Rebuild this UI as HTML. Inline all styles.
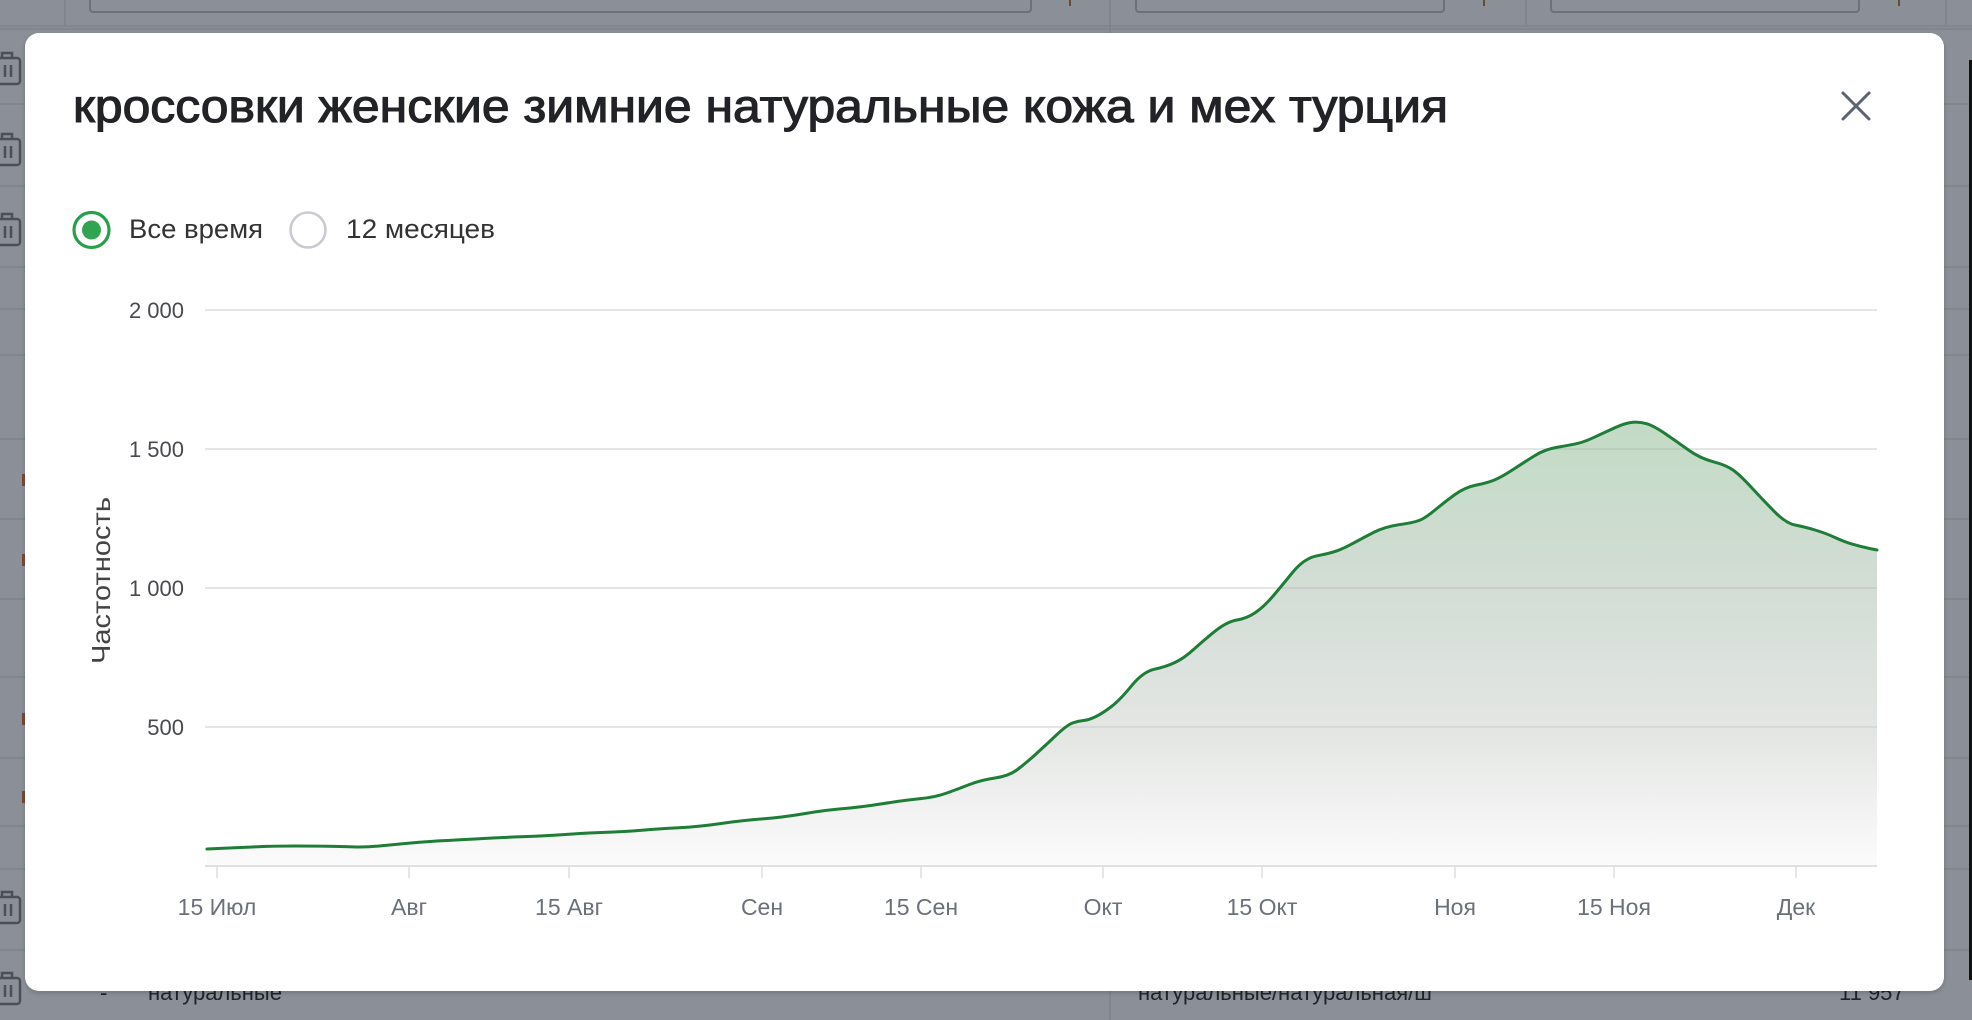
<!DOCTYPE html>
<html><head><meta charset="utf-8"><style>
html,body{margin:0;padding:0;width:1972px;height:1020px;overflow:hidden;background:#8a8f98;}
svg{display:block;}
text{font-family:"Liberation Sans","DejaVu Sans",sans-serif;}
</style></head><body>
<svg width="1972" height="1020" viewBox="0 0 1972 1020" xmlns="http://www.w3.org/2000/svg">
<defs>
<linearGradient id="fg" x1="0" y1="420" x2="0" y2="866" gradientUnits="userSpaceOnUse">
<stop offset="0" stop-color="#c2dbc5"/>
<stop offset="0.4" stop-color="#d4ddd6"/>
<stop offset="0.72" stop-color="#e5e7e5"/>
<stop offset="1" stop-color="#fbfbfb"/>
</linearGradient>
<filter id="sh" x="-2%" y="-2%" width="104%" height="106%"><feDropShadow dx="0" dy="2" stdDeviation="2" flood-color="#000" flood-opacity="0.18"/></filter>
<clipPath id="areaClip"><path d="M207,849 L223.5,848.25 Q240,847.5 257.5,846.75 Q275,846 295,846 Q315,846 327.5,846.25 Q340,846.5 353,846.9 Q366,847.3 377.5,846.15 Q389,845 409.5,843.15 Q430,841.3 444,840.65 Q458,840 481,838.65 Q504,837.3 524,836.65 Q544,836 567,834.35 Q590,832.7 607.5,832.2 Q625,831.7 642,830.2 Q659,828.7 679,827.7 Q699,826.7 722,823.35 Q745,820 762.5,818.85 Q780,817.7 803,813.85 Q826,810 843,808.65 Q860,807.3 883,803.65 Q906,800 920.5,798.65 Q935,797.3 946.5,793.15 Q958,789 969.5,784.5 Q981,780 995,778 Q1009,776 1017.5,769.5 Q1026,763 1035,754.85 Q1044,746.7 1055.5,735.85 Q1067,725 1072.5,723 Q1078,721 1083.5,720.5 Q1089,720 1096,716.5 Q1103,713 1111.5,706.5 Q1120,700 1131.5,685.85 Q1143,671.7 1154.5,669.2 Q1166,666.7 1175,662.5 Q1184,658.3 1194,649.15 Q1204,640 1215.5,630.85 Q1227,621.7 1237,620 Q1247,618.3 1255.5,612.5 Q1264,606.7 1272.5,596.7 Q1281,586.7 1292.5,572.5 Q1304,558.3 1317,555.8 Q1330,553.3 1337,550.8 Q1344,548.3 1354,542.8 Q1364,537.3 1374.5,532 Q1385,526.7 1399,524.7 Q1413,522.7 1419,520.5 Q1425,518.3 1435,510 Q1445,501.7 1455,494.5 Q1465,487.3 1476.5,485 Q1488,482.7 1495,479.7 Q1502,476.7 1513.5,469.2 Q1525,461.7 1535,455.5 Q1545,449.3 1558,447.15 Q1571,445 1578,443.35 Q1585,441.7 1595.5,436.7 Q1606,431.7 1616,427.2 Q1626,422.7 1633,422.2 Q1640,421.7 1647,423.85 Q1654,426 1665.5,433.85 Q1677,441.7 1688.5,450 Q1700,458.3 1713,461.65 Q1726,465 1733,470 Q1740,475 1751.5,487.5 Q1763,500 1774.5,511.65 Q1786,523.3 1795,525 Q1804,526.7 1815,530 Q1826,533.3 1835,537.5 Q1844,541.7 1852.5,544.2 Q1861,546.7 1869,548.35 L1877,550 L1877,866 L207,866 Z"/></clipPath>
</defs>
<rect x="0" y="0" width="1972" height="1020" fill="#8a8f98"/>
<!-- background table -->
<g stroke="#7d828a" stroke-width="1.5">
<line x1="0" y1="26" x2="1972" y2="26"/>
<line x1="0" y1="29" x2="1972" y2="29"/>
<line x1="0" y1="104" x2="1972" y2="104"/>
<line x1="0" y1="186" x2="1972" y2="186"/>
<line x1="0" y1="267" x2="1972" y2="267"/>
<line x1="0" y1="309" x2="1972" y2="309"/>
<line x1="0" y1="355" x2="1972" y2="355"/>
<line x1="0" y1="439" x2="1972" y2="439"/>
<line x1="0" y1="519" x2="1972" y2="519"/>
<line x1="0" y1="599" x2="1972" y2="599"/>
<line x1="0" y1="677" x2="1972" y2="677"/>
<line x1="0" y1="758" x2="1972" y2="758"/>
<line x1="0" y1="826" x2="1972" y2="826"/>
<line x1="0" y1="869" x2="1972" y2="869"/>
<line x1="0" y1="950" x2="1972" y2="950"/>
<line x1="65" y1="0" x2="65" y2="25"/>
<line x1="1110" y1="0" x2="1110" y2="1020"/>
<line x1="1526" y1="0" x2="1526" y2="25"/>
<line x1="1946" y1="0" x2="1946" y2="25"/>
</g>
<g fill="#8a8f98" stroke="#6c7179" stroke-width="2">
<rect x="90" y="-6" width="941" height="18" rx="3"/>
<rect x="1136" y="-6" width="308" height="18" rx="3"/>
<rect x="1551" y="-6" width="308" height="18" rx="3"/>
</g>
<g fill="#6a4a30"><rect x="1069" y="0" width="2" height="6"/><rect x="1483" y="0" width="2" height="6"/><rect x="1898" y="0" width="2" height="6"/></g>
<g fill="#7a4a35">
<rect x="22" y="474" width="3" height="12"/><rect x="22" y="554" width="3" height="12"/>
<rect x="22" y="713" width="3" height="12"/><rect x="22" y="791" width="3" height="12"/>
</g>
<!-- trash icons -->
<g fill="none" stroke="#4b4f56" stroke-width="2.5">
<rect x="-4" y="58" width="24" height="26" rx="3"/><path d="M2 58 v-5 h10 v5 M5 65 v12 M11 65 v12"/>
<rect x="-4" y="139" width="24" height="26" rx="3"/><path d="M2 139 v-5 h10 v5 M5 146 v12 M11 146 v12"/>
<rect x="-4" y="219" width="24" height="26" rx="3"/><path d="M2 219 v-5 h10 v5 M5 226 v12 M11 226 v12"/>
<rect x="-4" y="897" width="24" height="26" rx="3"/><path d="M2 897 v-5 h10 v5 M5 904 v12 M11 904 v12"/>
<rect x="-4" y="978" width="24" height="26" rx="3"/><path d="M2 978 v-5 h10 v5 M5 985 v12 M11 985 v12"/>
</g>
<rect x="1969" y="60" width="3" height="920" fill="#111"/>
<!-- text beneath modal -->
<g font-size="22" fill="#202327">
<text x="100" y="1000">-</text>
<text x="148" y="1000">натуральные</text>
<text x="1138" y="1000">натуральные/натуральная/ш</text>
<text x="1839" y="1000">11 957</text>
</g>
<!-- modal -->
<rect x="25" y="33" width="1919" height="958" rx="14" fill="#ffffff" filter="url(#sh)"/>
<text x="73" y="122" font-size="46" fill="#222326" stroke="#222326" stroke-width="1.1" textLength="1375" lengthAdjust="spacingAndGlyphs">кроссовки женские зимние натуральные кожа и мех турция</text>
<g stroke="#5b6370" stroke-width="3" stroke-linecap="round">
<line x1="1843" y1="93" x2="1869" y2="119"/>
<line x1="1869" y1="93" x2="1843" y2="119"/>
</g>
<!-- radios -->
<circle cx="91.5" cy="230" r="17.5" fill="#fff" stroke="#27a04b" stroke-width="3.2"/>
<circle cx="91.5" cy="230" r="9.5" fill="#31a451"/>
<text x="129" y="238" font-size="27" fill="#333" textLength="134" lengthAdjust="spacingAndGlyphs">Все время</text>
<circle cx="308" cy="230" r="17.5" fill="#fff" stroke="#c9cbd0" stroke-width="2.6"/>
<text x="346" y="238" font-size="27" fill="#333" textLength="149" lengthAdjust="spacingAndGlyphs">12 месяцев</text>
<!-- grid -->
<g stroke="#e5e5e5" stroke-width="2">
<line x1="205" y1="310" x2="1877" y2="310"/>
<line x1="205" y1="449" x2="1877" y2="449"/>
<line x1="205" y1="588" x2="1877" y2="588"/>
<line x1="205" y1="727" x2="1877" y2="727"/>
</g>
<g font-size="22" fill="#484a4f" text-anchor="end">
<text x="184" y="318">2 000</text>
<text x="184" y="457">1 500</text>
<text x="184" y="596">1 000</text>
<text x="184" y="735">500</text>
</g>
<text transform="translate(110,580.5) rotate(-90)" text-anchor="middle" font-size="26" fill="#444" textLength="167" lengthAdjust="spacingAndGlyphs">Частотность</text>
<!-- area -->
<rect x="200" y="400" width="1690" height="470" fill="url(#fg)" clip-path="url(#areaClip)"/>
<g stroke="#000" stroke-opacity="0.06" stroke-width="2" clip-path="url(#areaClip)">
<line x1="205" y1="449" x2="1877" y2="449"/>
<line x1="205" y1="588" x2="1877" y2="588"/>
<line x1="205" y1="727" x2="1877" y2="727"/>
</g>
<path fill="none" stroke="#1e7d36" stroke-width="3" stroke-linejoin="round" stroke-linecap="round" d="M207,849 L223.5,848.25 Q240,847.5 257.5,846.75 Q275,846 295,846 Q315,846 327.5,846.25 Q340,846.5 353,846.9 Q366,847.3 377.5,846.15 Q389,845 409.5,843.15 Q430,841.3 444,840.65 Q458,840 481,838.65 Q504,837.3 524,836.65 Q544,836 567,834.35 Q590,832.7 607.5,832.2 Q625,831.7 642,830.2 Q659,828.7 679,827.7 Q699,826.7 722,823.35 Q745,820 762.5,818.85 Q780,817.7 803,813.85 Q826,810 843,808.65 Q860,807.3 883,803.65 Q906,800 920.5,798.65 Q935,797.3 946.5,793.15 Q958,789 969.5,784.5 Q981,780 995,778 Q1009,776 1017.5,769.5 Q1026,763 1035,754.85 Q1044,746.7 1055.5,735.85 Q1067,725 1072.5,723 Q1078,721 1083.5,720.5 Q1089,720 1096,716.5 Q1103,713 1111.5,706.5 Q1120,700 1131.5,685.85 Q1143,671.7 1154.5,669.2 Q1166,666.7 1175,662.5 Q1184,658.3 1194,649.15 Q1204,640 1215.5,630.85 Q1227,621.7 1237,620 Q1247,618.3 1255.5,612.5 Q1264,606.7 1272.5,596.7 Q1281,586.7 1292.5,572.5 Q1304,558.3 1317,555.8 Q1330,553.3 1337,550.8 Q1344,548.3 1354,542.8 Q1364,537.3 1374.5,532 Q1385,526.7 1399,524.7 Q1413,522.7 1419,520.5 Q1425,518.3 1435,510 Q1445,501.7 1455,494.5 Q1465,487.3 1476.5,485 Q1488,482.7 1495,479.7 Q1502,476.7 1513.5,469.2 Q1525,461.7 1535,455.5 Q1545,449.3 1558,447.15 Q1571,445 1578,443.35 Q1585,441.7 1595.5,436.7 Q1606,431.7 1616,427.2 Q1626,422.7 1633,422.2 Q1640,421.7 1647,423.85 Q1654,426 1665.5,433.85 Q1677,441.7 1688.5,450 Q1700,458.3 1713,461.65 Q1726,465 1733,470 Q1740,475 1751.5,487.5 Q1763,500 1774.5,511.65 Q1786,523.3 1795,525 Q1804,526.7 1815,530 Q1826,533.3 1835,537.5 Q1844,541.7 1852.5,544.2 Q1861,546.7 1869,548.35 L1877,550"/>
<!-- x axis -->
<line x1="205" y1="866" x2="1877" y2="866" stroke="#e0e0e0" stroke-width="2"/>
<g stroke="#dedede" stroke-width="1.5">
<line x1="217" y1="866" x2="217" y2="878"/>
<line x1="409" y1="866" x2="409" y2="878"/>
<line x1="569" y1="866" x2="569" y2="878"/>
<line x1="762" y1="866" x2="762" y2="878"/>
<line x1="921" y1="866" x2="921" y2="878"/>
<line x1="1103" y1="866" x2="1103" y2="878"/>
<line x1="1262" y1="866" x2="1262" y2="878"/>
<line x1="1455" y1="866" x2="1455" y2="878"/>
<line x1="1614" y1="866" x2="1614" y2="878"/>
<line x1="1796" y1="866" x2="1796" y2="878"/>
</g>
<g font-size="23" fill="#6b7079" text-anchor="middle">
<text x="217" y="915">15 Июл</text>
<text x="409" y="915">Авг</text>
<text x="569" y="915">15 Авг</text>
<text x="762" y="915">Сен</text>
<text x="921" y="915">15 Сен</text>
<text x="1103" y="915">Окт</text>
<text x="1262" y="915">15 Окт</text>
<text x="1455" y="915">Ноя</text>
<text x="1614" y="915">15 Ноя</text>
<text x="1796" y="915">Дек</text>
</g>
</svg>
</body></html>
